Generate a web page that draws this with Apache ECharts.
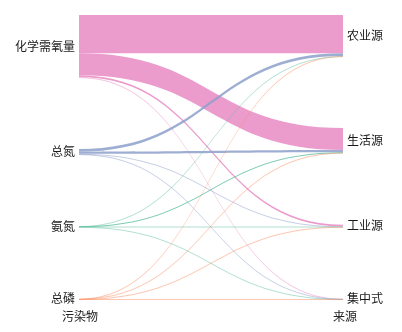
<!DOCTYPE html>
<html>
<head>
<meta charset="utf-8">
<script src="https://cdn.jsdelivr.net/npm/echarts@6/dist/echarts.min.js"></script>
<style>
html,body{margin:0;padding:0;background:#fff;}
#c{width:402px;height:332px;}
</style>
</head>
<body>
<div id="c"></div>
<script>
// Pollutants (left) and sources (right)
var pollutants = ['化学需氧量', '总氮', '氨氮', '总磷'];
var sources = ['农业源', '生活源', '工业源', '集中式'];
var pollutantColors = ['#e78ac3', '#8da0cb', '#66c2a5', '#fc8d62'];
// flow values: each row = pollutant, columns = sources in order above
var codFlows = [38.5, 22.0, 1.7, 0.12];
var tnFlows = [2.6, 2.1, 0.25, 0.06];
var nhFlows = [0.1, 0.45, 0.08, 0.05];
var tpFlows = [0.08, 0.06, 0.07, 0.04];
var axisTitles = ['污染物', '来源'];

var flowRows = [codFlows, tnFlows, nhFlows, tpFlows];
var font = '"Noto Sans CJK SC", sans-serif';

var nodes = [];
pollutants.forEach(function (p, i) {
  nodes.push({
    name: p,
    itemStyle: { color: pollutantColors[i], opacity: 0, borderWidth: 0 },
    label: { position: 'left', distance: 3 }
  });
});
sources.forEach(function (s) {
  nodes.push({
    name: s,
    itemStyle: { color: '#999', opacity: 0, borderWidth: 0 },
    label: { position: 'right', distance: 3 }
  });
});
var links = [];
flowRows.forEach(function (row, i) {
  row.forEach(function (v, j) {
    links.push({
      source: pollutants[i], target: sources[j], value: v,
      lineStyle: { color: pollutantColors[i], opacity: v < 0.3 ? 0.5 : 0.85 }
    });
  });
});

var chart = echarts.init(document.getElementById('c'), null, { renderer: 'canvas' });
chart.setOption({
  animation: false,
  backgroundColor: '#ffffff',
  graphic: [
    { type: 'text', left: 62, top: 310, style: { text: axisTitles[0], font: '12px ' + font, fill: '#222' } },
    { type: 'text', left: 333, top: 310, style: { text: axisTitles[1], font: '12px ' + font, fill: '#222' } }
  ],
  series: [{
    type: 'sankey',
    left: 78, right: 58, top: 15, bottom: 33,
    nodeWidth: 1,
    nodeGap: 72,
    layoutIterations: 0,
    draggable: false,
    emphasis: { disabled: true },
    label: { color: '#1a1a1a', fontSize: 12, fontFamily: font },
    lineStyle: { curveness: 0.5 },
    data: nodes,
    links: links
  }]
});
</script>
</body>
</html>
